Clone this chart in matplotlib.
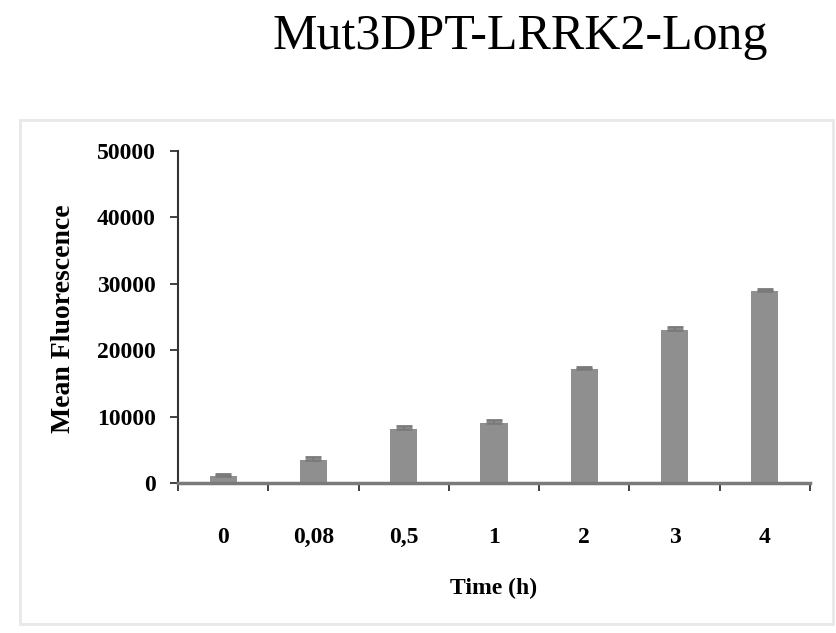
import numpy as np
import matplotlib.pyplot as plt
from matplotlib.patches import Rectangle

# Mean fluorescence over time, Mut3DPT-LRRK2-Long
time_labels = ['0', '0,08', '0,5', '1', '2', '3', '4']
mean_fluo = [1050, 3500, 8100, 9100, 17100, 23050, 28850]
err_fluo = [350, 450, 450, 350, 400, 400, 350]

plt.rcParams['font.family'] = ['Liberation Serif', 'DejaVu Serif']

W, H = 837, 633
fig = plt.figure(figsize=(W / 100, H / 100), dpi=100)

# light grey frame around the plot area
fig.patches.append(Rectangle((20 / W, 1 - 624 / H), 813 / W, 504 / H,
                             transform=fig.transFigure, fill=False,
                             edgecolor='#e8e8e8', linewidth=2))

fig.text(520 / W, 1 - 49 / H, 'Mut3DPT-LRRK2-Long', ha='center', va='baseline',
         fontsize=36)

ax = fig.add_axes([178 / W, 1 - 483 / H, (810 - 178) / W, (483 - 151) / H])

x = np.arange(len(time_labels))
lower = np.zeros(len(err_fluo))
ax.bar(x, mean_fluo, width=0.3, color='#8f8f8f', edgecolor='none', zorder=2)
ax.errorbar(x, mean_fluo, yerr=[lower, err_fluo], fmt='none', ecolor='#7a7a7a',
            elinewidth=1.5, capsize=5.5, capthick=2, zorder=3)

ax.set_xlim(-0.5, len(time_labels) - 0.5)
ax.set_ylim(0, 50000)
ax.set_yticks(np.arange(0, 50001, 10000))

# tick marks between categories, labels under the bars
ax.set_xticks(np.arange(-0.5, len(time_labels), 1.0))
ax.set_xticklabels([])
ax.set_xticks(x, minor=True)
ax.set_xticklabels(time_labels, minor=True)
ax.tick_params(axis='x', which='major', direction='out', length=6, width=1.3,
               color='#333333')
ax.tick_params(axis='x', which='minor', length=0, pad=32, labelsize=17)
ax.tick_params(axis='y', direction='out', length=6, width=1.3, color='#333333',
               labelsize=17, pad=10)
for lab in ax.get_xticklabels(minor=True) + ax.get_yticklabels():
    lab.set_fontweight('bold')

ax.spines['top'].set_visible(False)
ax.spines['right'].set_visible(False)
ax.spines['left'].set_color('#333333')
ax.spines['left'].set_linewidth(1.5)
ax.spines['bottom'].set_color('#7a7a7a')
ax.spines['bottom'].set_linewidth(2.5)
ax.spines['bottom'].set_zorder(4)

ax.set_xlabel('Time (h)', fontsize=17, fontweight='bold', labelpad=21)
fig.text(64 / W, 1 - 319 / H, 'Mean Fluorescence', rotation=90, ha='center',
         va='center', fontsize=20, fontweight='bold')

fig.savefig('out.png', dpi=100)
